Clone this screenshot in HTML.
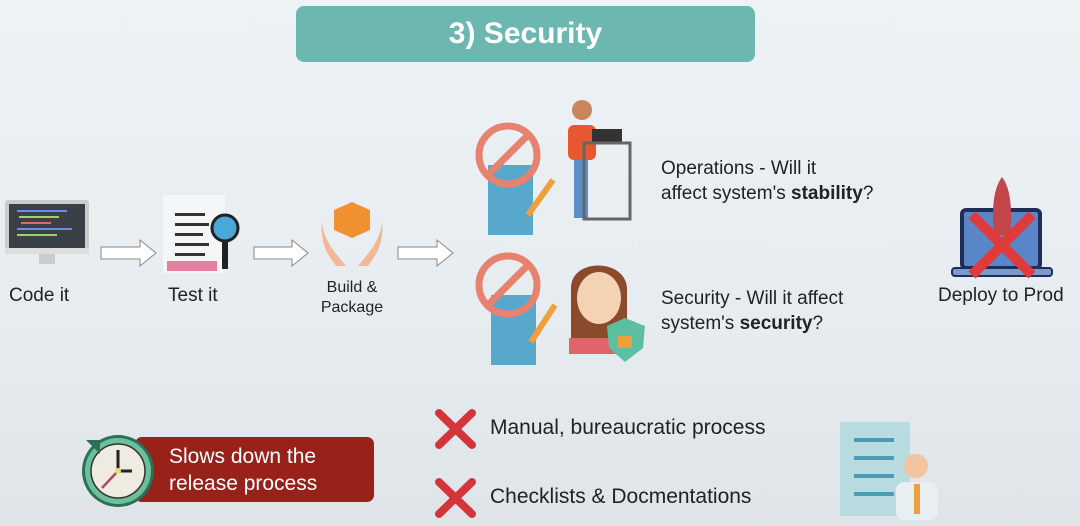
<!DOCTYPE html>
<html><head><meta charset="utf-8"><style>
body{margin:0;width:1080px;height:526px;overflow:hidden;background:linear-gradient(#edf2f5 0%,#e6ecf0 60%,#dfe4e8 100%);font-family:"Liberation Sans","DejaVu Sans",sans-serif;position:relative;color:#222}
.a{position:absolute}
.t{font-size:19px;color:#222;white-space:nowrap}
</style></head><body>
<div class="a" style="left:296px;top:6px;width:459px;height:56px;background:#6cb8b1;border-radius:8px;color:#fff;font-weight:bold;font-size:30px;text-align:center;line-height:56px">3) Security</div>

<svg class="a" style="left:5px;top:200px" width="84" height="76"><rect x="0" y="0" width="84" height="54" rx="3" fill="#ccc"/><rect x="4" y="4" width="76" height="44" fill="#3b4048"/><rect x="12" y="10" width="50" height="2" fill="#6a8ee6"/><rect x="14" y="16" width="40" height="2" fill="#9bd06a"/><rect x="16" y="22" width="30" height="2" fill="#e06a6a"/><rect x="12" y="28" width="55" height="2" fill="#6a8ee6"/><rect x="12" y="34" width="40" height="2" fill="#9bd06a"/><rect x="0" y="48" width="84" height="6" fill="#ddd"/><rect x="34" y="54" width="16" height="10" fill="#ccc"/></svg>
<div class="a t" style="left:9px;top:285px">Code it</div>

<svg class="a" style="left:163px;top:195px" width="84" height="80"><rect x="0" y="0" width="62" height="78" fill="#f4f6f8"/><rect x="12" y="18" width="30" height="3" fill="#333"/><rect x="12" y="28" width="34" height="3" fill="#333"/><rect x="12" y="38" width="28" height="3" fill="#333"/><rect x="12" y="48" width="34" height="3" fill="#333"/><rect x="12" y="58" width="30" height="3" fill="#333"/><rect x="4" y="66" width="50" height="10" fill="#e44d7b" opacity=".7"/><circle cx="62" cy="33" r="13" fill="#4aa8d8" stroke="#222" stroke-width="3"/><rect x="59" y="46" width="6" height="28" fill="#222"/></svg>
<div class="a t" style="left:168px;top:285px">Test it</div>

<svg class="a" style="left:318px;top:200px" width="68" height="68"><polygon points="34,2 52,10 52,30 34,38 16,30 16,10" fill="#f0912f"/><path d="M4 20 C4 40 20 56 28 66 L18 66 C10 55 2 45 4 20Z" fill="#f2b896"/><path d="M64 20 C64 40 48 56 40 66 L50 66 C58 55 66 45 64 20Z" fill="#f2b896"/></svg>
<div class="a" style="left:318px;top:278px;font-size:16px;text-align:center;line-height:20px;width:68px">Build &amp;<br>Package</div>

<svg class="a" style="left:0;top:0" width="460" height="280">
<polygon points="101,247 140,247 140,240 156,253 140,266 140,259 101,259" fill="#fff" stroke="#888"/>
<polygon points="254,247 292,247 292,240 308,253 292,266 292,259 254,259" fill="#fff" stroke="#888"/>
<polygon points="398,247 437,247 437,240 453,253 437,266 437,259 398,259" fill="#fff" stroke="#888"/>
</svg>

<svg class="a" style="left:473px;top:120px" width="90" height="120"><rect x="15" y="45" width="45" height="70" fill="#58a8cc"/><circle cx="35" cy="35" r="29" fill="none" stroke="#e7826f" stroke-width="7"/><line x1="15" y1="55" x2="55" y2="15" stroke="#e7826f" stroke-width="7"/><line x1="80" y1="60" x2="55" y2="95" stroke="#f0a03a" stroke-width="6"/></svg>
<svg class="a" style="left:562px;top:95px" width="72" height="130"><circle cx="20" cy="15" r="10" fill="#c8865a"/><rect x="6" y="30" width="28" height="35" rx="6" fill="#e8582f"/><rect x="12" y="65" width="14" height="58" fill="#5b8fc9"/><rect x="30" y="34" width="30" height="14" fill="#333"/><rect x="22" y="48" width="46" height="76" fill="none" stroke="#666" stroke-width="3"/></svg>
<div class="a t" style="left:661px;top:156px;line-height:25px">Operations - Will it<br>affect system's <b>stability</b>?</div>

<svg class="a" style="left:473px;top:250px" width="90" height="118"><rect x="18" y="45" width="45" height="70" fill="#58a8cc"/><circle cx="35" cy="35" r="29" fill="none" stroke="#e7826f" stroke-width="7"/><line x1="15" y1="55" x2="55" y2="15" stroke="#e7826f" stroke-width="7"/><line x1="82" y1="55" x2="58" y2="92" stroke="#f0a03a" stroke-width="6"/></svg>
<svg class="a" style="left:565px;top:248px" width="85" height="120"><path d="M6 100 L6 40 C6 10 60 10 62 40 L62 100Z" fill="#8b4a2c"/><ellipse cx="34" cy="50" rx="22" ry="26" fill="#f4d2b4"/><rect x="4" y="90" width="60" height="16" fill="#e0646b"/><path d="M60 70 L80 78 L78 100 L60 114 L44 100 L42 78Z" fill="#5cbfa0"/><rect x="53" y="88" width="14" height="12" fill="#f0a03a"/></svg>
<div class="a t" style="left:661px;top:286px;line-height:25px">Security - Will it affect<br>system's <b>security</b>?</div>

<svg class="a" style="left:950px;top:175px" width="110" height="110"><rect x="12" y="35" width="78" height="58" rx="4" fill="#5a86c8" stroke="#1f2e57" stroke-width="4"/><rect x="2" y="93" width="100" height="8" rx="3" fill="#7a9acb" stroke="#1f2e57" stroke-width="2"/><path d="M52 2 C62 15 62 40 60 60 L44 60 C42 40 42 15 52 2Z" fill="#c4454a"/><line x1="22" y1="40" x2="82" y2="100" stroke="#e03a3a" stroke-width="10"/><line x1="82" y1="40" x2="22" y2="100" stroke="#e03a3a" stroke-width="10"/></svg>
<div class="a t" style="left:938px;top:285px">Deploy to Prod</div>

<div class="a" style="left:135px;top:437px;width:239px;height:65px;background:#982219;border-radius:7px;color:#fff;font-size:21px;line-height:27px;padding:6px 0 0 34px;box-sizing:border-box">Slows down the<br>release process</div>
<svg class="a" style="left:78px;top:430px" width="82" height="82"><circle cx="40" cy="41" r="36" fill="#2e6f57"/><circle cx="40" cy="41" r="33" fill="#6bbf9b"/><circle cx="40" cy="41" r="27" fill="#efebe0" stroke="#333" stroke-width="1.5"/><line x1="40" y1="41" x2="40" y2="20" stroke="#222" stroke-width="3"/><line x1="40" y1="41" x2="54" y2="41" stroke="#222" stroke-width="3"/><line x1="40" y1="41" x2="24" y2="58" stroke="#b0476a" stroke-width="2.5"/><circle cx="40" cy="41" r="3" fill="#e8e06a"/><polygon points="8,10 22,10 22,24" fill="#2e6f57"/></svg>

<svg class="a" style="left:434px;top:408px" width="44" height="42"><g stroke="#d3353a" stroke-width="8" stroke-linecap="round"><line x1="5" y1="5" x2="38" y2="37"/><line x1="38" y1="5" x2="5" y2="37"/></g></svg>
<div class="a t" style="left:490px;top:416px;font-size:21px">Manual, bureaucratic process</div>
<svg class="a" style="left:434px;top:477px" width="44" height="42"><g stroke="#d3353a" stroke-width="8" stroke-linecap="round"><line x1="5" y1="5" x2="38" y2="37"/><line x1="38" y1="5" x2="5" y2="37"/></g></svg>
<div class="a t" style="left:490px;top:485px;font-size:21px">Checklists &amp; Docmentations</div>

<svg class="a" style="left:840px;top:420px" width="100" height="100"><rect x="0" y="2" width="70" height="94" fill="#b8dbe0"/><rect x="14" y="18" width="40" height="4" fill="#4a9db5"/><rect x="14" y="36" width="40" height="4" fill="#4a9db5"/><rect x="14" y="54" width="40" height="4" fill="#4a9db5"/><rect x="14" y="72" width="40" height="4" fill="#4a9db5"/><circle cx="76" cy="46" r="12" fill="#f2c5a0"/><rect x="56" y="62" width="42" height="38" rx="8" fill="#e8eef2"/><rect x="74" y="64" width="6" height="30" fill="#f0a03a"/></svg>
</body></html>
